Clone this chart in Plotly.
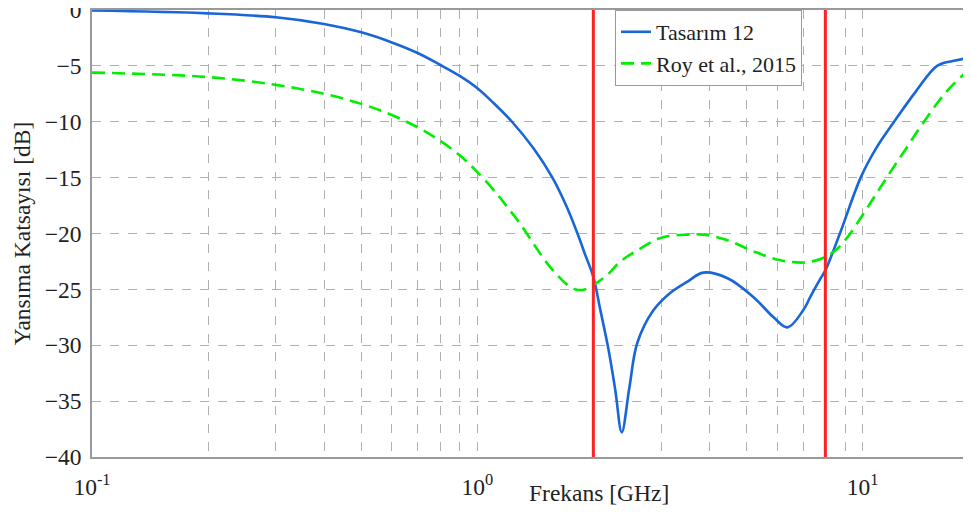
import plotly.graph_objects as go
import math

# Tasarım 12 (blue, solid)
freq_t12 = [0.1, 0.2, 0.3, 0.4, 0.5, 0.6, 0.7, 0.8, 0.9, 1.0, 1.1, 1.23, 1.4, 1.566,
            1.7, 1.819, 1.9, 2.0, 2.087, 2.19, 2.28, 2.37, 2.48, 2.60, 2.86, 3.17,
            3.51, 3.86, 4.46, 5.21, 5.87, 6.38, 7.0, 7.33, 7.78, 8.0, 8.77, 9.88,
            10.87, 12.06, 13.73, 15.6, 17.23, 19.1, 20.0]
s11_t12 = [-0.05, -0.3, -0.65, -1.25, -2.0, -2.9, -3.85, -4.9, -5.9, -7.0, -8.3, -10.0, -12.4, -15.0,
           -17.5, -20.0, -21.8, -23.9, -26.9, -30.4, -34.0, -37.8, -33.8, -29.8, -26.9, -25.3,
           -24.3, -23.5, -24.0, -25.7, -27.5, -28.4, -26.9, -25.6, -24.0, -23.3, -19.8, -15.0,
           -12.3, -10.0, -7.3, -5.0, -4.55, -4.25, -4.2]

# Roy et al., 2015 (green, dashed)
freq_roy = [0.1, 0.2, 0.3, 0.4, 0.5, 0.6, 0.7, 0.8, 0.9, 1.0, 1.127, 1.2, 1.29, 1.41,
            1.52, 1.61, 1.713, 1.80, 1.88, 2.0, 2.176, 2.351, 2.604, 2.988, 3.51, 3.86,
            4.46, 5.21, 6.12, 7.0, 7.5, 8.0, 8.5, 9.0, 9.5, 10.5, 11.59, 12.9, 14.42,
            16.5, 19.1, 20.0]
s11_roy = [-5.6, -6.0, -6.7, -7.5, -8.4, -9.4, -10.5, -11.7, -13.0, -14.5, -16.5, -17.7, -19.1, -21.1,
           -22.7, -23.7, -24.6, -25.0, -25.05, -24.6, -23.7, -22.5, -21.5, -20.4, -20.1, -20.1,
           -20.6, -21.6, -22.4, -22.6, -22.45, -22.1, -21.5, -20.6, -19.5, -17.2, -14.9, -12.5, -10.0,
           -7.3, -5.2, -4.7]

band_edges = [2, 8]
x_tickvals = [0.1, 1, 10]
x_ticktext = ["10<sup>-1</sup>", "10<sup>0</sup>", "10<sup>1</sup>"]
y_tickvals = [0, -5, -10, -15, -20, -25, -30, -35, -40]

FONT = "Liberation Serif"
FS = 23.5
TXT = "#222222"
fig = go.Figure()

fig.add_trace(go.Scatter(x=freq_t12, y=s11_t12, mode="lines", name="Tasarım 12",
                         line=dict(color="#1866d8", width=2.6, shape="spline", smoothing=1.0)))
fig.add_trace(go.Scatter(x=freq_roy, y=s11_roy, mode="lines", name="Roy et al., 2015",
                         line=dict(color="#00ee00", width=2.6, dash="13px,7px",
                                   shape="spline", smoothing=1.0)))
for f in band_edges:
    fig.add_trace(go.Scatter(x=[f, f], y=[-40, 0], mode="lines", showlegend=False,
                             line=dict(color="#ff2020", width=3), hoverinfo="skip"))

# the page body adds an 8px margin, so the figure is 8px smaller and margins shifted
fig.update_layout(
    width=963, height=505,
    margin=dict(l=84, r=0, t=2, b=56, autoexpand=False),
    paper_bgcolor="white", plot_bgcolor="white",
    font=dict(family=FONT, size=FS, color=TXT),
    legend=dict(x=0.595, y=1.0, xanchor="left", yanchor="top",
                bgcolor="white", bordercolor="#999999", borderwidth=1,
                font=dict(family=FONT, size=22, color=TXT),
                tracegroupgap=0, itemwidth=30),
    xaxis=dict(type="log", range=[-1, math.log10(19.1)], automargin=False,
               tickvals=x_tickvals, ticktext=x_ticktext,
               showgrid=True, gridcolor="#b0b0b0", griddash="dash", gridwidth=1,
               minor=dict(dtick="D1", showgrid=True, gridcolor="#b0b0b0", griddash="dash", gridwidth=1),
               showline=True, linecolor="#999999", linewidth=1.5, mirror=True,
               ticks="", ticklabelstandoff=8, ticklabeloverflow="allow", zeroline=False,
               tickfont=dict(family=FONT, size=FS, color=TXT)),
    yaxis=dict(range=[-40, 0], tickvals=y_tickvals, automargin=False,
               showgrid=True, gridcolor="#b0b0b0", griddash="dash", gridwidth=1,
               showline=True, linecolor="#999999", linewidth=1.5, mirror=True,
               ticks="", zeroline=False, ticklabelstandoff=4, ticklabeloverflow="allow",
               tickfont=dict(family=FONT, size=FS, color=TXT),
               title=dict(text="Yansıma Katsayısı [dB]", standoff=8,
                          font=dict(family=FONT, size=FS, color=TXT))),
    annotations=[dict(text="Frekans [GHz]", xref="paper", yref="paper",
                      x=0.577, y=-0.0805, xanchor="center", yanchor="middle",
                      showarrow=False, font=dict(family=FONT, size=FS, color=TXT))],
)

fig.write_html("out.html")
